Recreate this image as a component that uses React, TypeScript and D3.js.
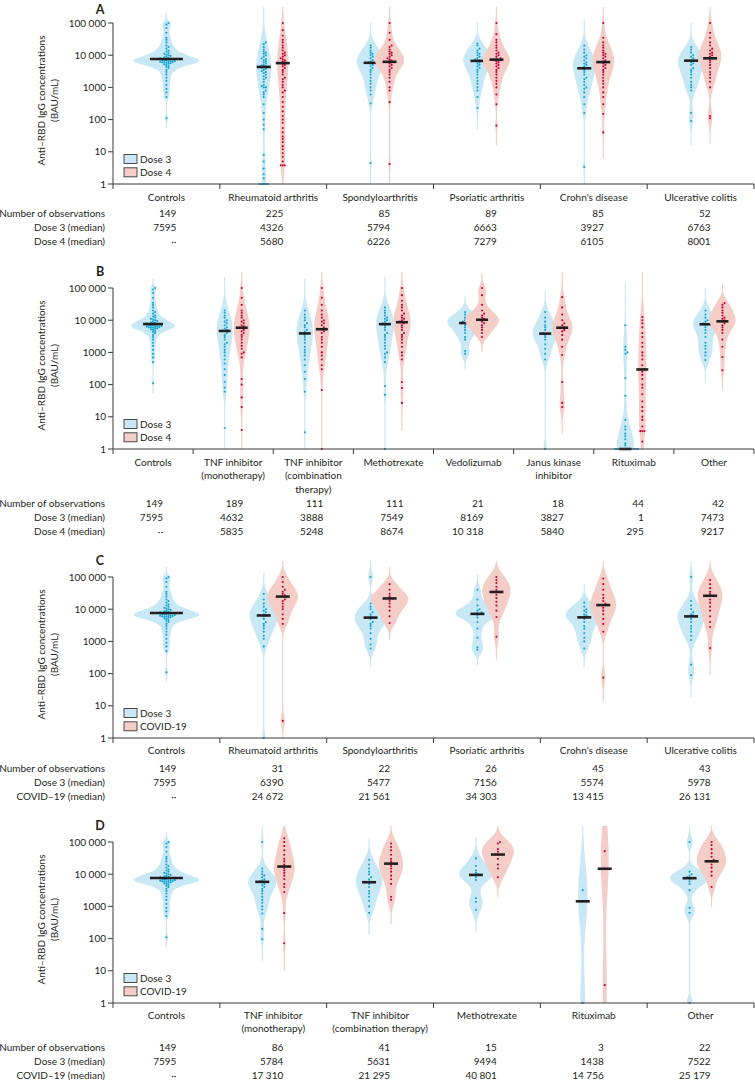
import React from "react";
import * as d3 from "d3";

// ---------------- DATA ----------------
const yTicks = [1, 10, 100, 1000, 10000, 100000];

const rowLabelsDose4 = ["Number of observations", "Dose 3 (median)", "Dose 4 (median)"];
const rowLabelsCovid = ["Number of observations", "Dose 3 (median)", "COVID\u201319 (median)"];
const legendDose4 = ["Dose 3", "Dose 4"];
const legendCovid = ["Dose 3", "COVID-19"];

// Controls (same in all panels)
const controls = [110, 500, 700, 900, 1200, 1600, 2000, 2500, 3000, 3500, 4000, 4300, 4600, 5000, 5200, 5400, 5600, 5800, 6000, 6000, 6100, 6200, 6300, 6500, 6600, 6800, 7000, 7000, 7200, 7400, 7595, 7800, 8000, 8300, 8600, 9000, 9500, 10000, 10500, 11000, 12000, 13000, 14000, 16000, 18000, 20000, 25000, 30000, 35000, 50000, 70000, 90000, 100000];

// Panel A
const catsA = [["Controls"], ["Rheumatoid arthritis"], ["Spondyloarthritis"], ["Psoriatic arthritis"], ["Crohn's disease"], ["Ulcerative colitis"]];
const nObsA = [149, 225, 85, 89, 85, 52];
const dose3MedA = [7595, 4326, 5794, 6663, 3927, 6763];
const dose4MedA = [null, 5680, 6226, 7279, 6105, 8001];
const raD3A = [1, 1, 1, 1, 1, 1.5, 2, 3, 5, 8, 50, 70, 100, 160, 300, 500, 600, 700, 800, 1000, 1000, 1100, 1200, 1500, 1800, 2000, 2200, 2500, 2800, 3000, 3200, 3500, 3800, 4000, 4200, 4326, 4500, 4800, 5000, 5500, 6000, 6500, 7000, 7500, 8000, 9000, 10000, 11000, 12000, 13000, 15000, 18000, 22000, 25000];
const raD4A = [3.8, 3.8, 3.8, 5, 7, 9, 12, 15, 20, 25, 30, 40, 55, 80, 100, 130, 180, 250, 350, 500, 700, 800, 1000, 1200, 1500, 1800, 2000, 2500, 3000, 3500, 4000, 4500, 5000, 5300, 5680, 6000, 6500, 7000, 7500, 8000, 9000, 10000, 11000, 12000, 14000, 17000, 20000, 25000, 30000, 40000, 60000, 100000];
const spD3A = [4.5, 320, 600, 800, 1000, 1300, 1600, 2000, 2500, 3000, 3500, 4000, 4500, 5000, 5500, 5800, 6000, 6500, 7000, 8000, 9000, 10000, 11000, 12000, 14000, 17000, 20000];
const spD4A = [4.2, 350, 800, 1000, 1500, 2000, 2500, 3000, 3500, 4000, 4500, 5000, 5500, 6000, 6226, 6500, 7000, 7500, 8000, 9000, 10000, 11000, 12000, 13000, 15000, 18000, 20000, 30000, 50000, 100000];
const psD3A = [230, 500, 800, 1000, 1300, 1600, 2000, 2500, 3000, 3500, 4000, 4500, 5000, 5500, 6000, 6663, 7000, 7500, 8000, 9000, 10000, 11000, 12000, 14000, 16000, 20000, 23000];
const psD4A = [65, 300, 600, 1000, 1300, 1600, 2000, 2500, 3000, 3500, 4000, 4500, 5000, 5500, 6000, 6500, 7000, 7279, 7500, 8000, 9000, 10000, 11000, 12000, 14000, 17000, 20000, 25000, 30000, 45000, 100000];
const cdD3A = [3.4, 160, 300, 500, 700, 900, 1000, 1200, 1500, 1800, 2000, 2500, 3000, 3500, 3927, 4000, 4500, 5000, 5500, 6000, 7000, 8000, 9000, 10000, 12000, 15000, 20000];
const cdD4A = [40, 150, 300, 500, 700, 1000, 1300, 1600, 2000, 2500, 3000, 3500, 4000, 4500, 5000, 5500, 6105, 6500, 7000, 8000, 9000, 10000, 11000, 12000, 14000, 17000, 20000, 25000, 35000, 100000];
const ucD3A = [90, 160, 800, 1000, 1200, 1500, 2000, 2500, 3000, 3500, 4000, 5000, 5500, 6000, 6763, 7000, 8000, 9000, 10000, 12000, 15000, 18000];
const ucD4A = [110, 130, 1000, 1500, 2000, 2500, 3000, 4000, 5000, 6000, 7000, 8001, 9000, 10000, 11000, 12000, 14000, 16000, 20000, 25000, 35000, 50000, 100000];
const dose3ValsA = [controls, raD3A, spD3A, psD3A, cdD3A, ucD3A];
const dose4ValsA = [null, raD4A, spD4A, psD4A, cdD4A, ucD4A];

// Panel B
const catsB = [["Controls"], ["TNF inhibitor", "(monotherapy)"], ["TNF inhibitor", "(combination", "therapy)"], ["Methotrexate"], ["Vedolizumab"], ["Janus kinase", "inhibitor"], ["Rituximab"], ["Other"]];
const nObsB = [149, 189, 111, 111, 21, 18, 44, 42];
const dose3MedB = [7595, 4632, 3888, 7549, 8169, 3827, 1, 7473];
const dose4MedB = [null, 5835, 5248, 8674, 10318, 5840, 295, 9217];
const tnfmD3B = [4.5, 60, 80, 120, 200, 300, 450, 600, 800, 1000, 1200, 1500, 1800, 2000, 2500, 3000, 3500, 4000, 4632, 5000, 5500, 6000, 7000, 8000, 9000, 10000, 12000, 14000, 17000, 20000];
const tnfmD4B = [3.9, 20, 40, 100, 150, 700, 900, 1000, 1300, 1600, 2000, 2500, 3000, 3500, 4000, 4500, 5000, 5835, 6500, 7000, 8000, 9000, 10000, 12000, 14000, 17000, 20000, 30000, 50000, 100000];
const tnfcD3B = [3.3, 60, 150, 250, 400, 600, 800, 1000, 1200, 1500, 2000, 2500, 3000, 3500, 3888, 4500, 5000, 6000, 7000, 8000, 10000, 12000, 15000, 20000];
const tnfcD4B = [1, 68, 300, 400, 600, 800, 1000, 1500, 2000, 2500, 3000, 4000, 4500, 5248, 6000, 7000, 8000, 9000, 10000, 12000, 15000, 20000, 30000, 50000, 100000];
const mtxD3B = [1, 48, 90, 500, 700, 900, 1000, 1300, 1600, 2000, 2500, 3000, 3500, 4000, 5000, 6000, 7000, 7549, 8000, 9000, 10000, 11000, 12000, 14000, 17000, 20000, 25000];
const mtxD4B = [27, 78, 120, 600, 800, 1000, 1500, 2000, 2500, 3000, 3500, 4000, 5000, 6000, 7000, 8000, 8674, 9000, 10000, 11000, 12000, 14000, 16000, 20000, 25000, 30000, 40000, 60000, 100000];
const vedD3B = [900, 1100, 2500, 3000, 4000, 5000, 6000, 7000, 8169, 8500, 9000, 10000, 11000, 12000, 15000, 18000];
const vedD4B = [3000, 4000, 5000, 6000, 7000, 8000, 9000, 10318, 11000, 12000, 14000, 16000, 20000, 30000, 60000, 100000];
const jakD3B = [1, 600, 900, 1300, 1800, 2500, 3000, 3500, 3827, 4000, 5000, 6000, 7000, 9000, 12000, 18000];
const jakD4B = [20, 27, 120, 830, 1500, 2500, 3500, 4500, 5000, 5840, 6000, 7000, 8000, 10000, 15000, 25000, 52000];
const rtxD3B = [1, 1, 1, 1, 1, 1, 1, 1, 1, 1, 1, 1, 1.3, 1.5, 2, 2.5, 3, 4, 5, 8, 45, 160, 900, 1000, 1200, 1500, 7000];
const rtxD4B = [1.7, 3.6, 3.6, 3.6, 5, 8, 10, 15, 20, 30, 50, 80, 100, 150, 200, 250, 295, 300, 400, 600, 800, 1000, 1500, 2000, 3000, 4000, 6000, 8000, 10000, 12600];
const othD3B = [580, 800, 1000, 1300, 1600, 2000, 3000, 4000, 5000, 6000, 7000, 7473, 8000, 9000, 10000, 12000, 15000, 20000];
const othD4B = [280, 720, 1500, 2500, 4000, 5000, 6000, 7000, 8000, 9217, 10000, 11000, 12000, 14000, 17000, 20000, 25000, 30000, 34000];
const dose3ValsB = [controls, tnfmD3B, tnfcD3B, mtxD3B, vedD3B, jakD3B, rtxD3B, othD3B];
const dose4ValsB = [null, tnfmD4B, tnfcD4B, mtxD4B, vedD4B, jakD4B, rtxD4B, othD4B];

// Panel C
const catsC = catsA;
const nObsC = [149, 31, 22, 26, 45, 43];
const dose3MedC = [7595, 6390, 5477, 7156, 5574, 5978];
const covidMedC = [null, 24672, 21561, 34303, 13415, 26131];
const raD3C = [1, 700, 1200, 1500, 2000, 2500, 3000, 3500, 4000, 5000, 6000, 6390, 7000, 8000, 9000, 10000, 12000, 15000, 20000, 30000];
const raCvC = [3.4, 3500, 5000, 7000, 10000, 12000, 15000, 18000, 20000, 24672, 27000, 30000, 35000, 40000, 50000, 70000, 100000];
const spD3C = [600, 800, 1200, 1800, 2500, 3000, 3500, 4000, 5000, 5477, 6000, 7000, 8000, 10000, 12000, 15000, 100000];
const spCvC = [3700, 6000, 9000, 12000, 15000, 18000, 21561, 25000, 30000, 40000, 60000];
const psD3C = [550, 650, 1300, 2500, 4000, 5500, 6500, 7000, 7156, 7500, 8000, 9000, 10000, 13000, 20000, 40000];
const psCvC = [1400, 5700, 9000, 13000, 17000, 22000, 28000, 34303, 40000, 50000, 65000, 80000, 100000];
const cdD3C = [600, 1000, 1300, 1800, 2500, 3000, 4000, 5000, 5574, 6000, 6500, 7000, 8000, 9000, 10000, 12000, 16000];
const cdCvC = [75, 2000, 3500, 5000, 7000, 9000, 11000, 13415, 15000, 18000, 22000, 28000, 40000, 60000, 90000];
const ucD3C = [90, 190, 1100, 1500, 2000, 2500, 3000, 4000, 5000, 5978, 6500, 7000, 8000, 10000, 13000, 18000, 100000];
const ucCvC = [620, 2800, 4000, 6000, 9000, 12000, 16000, 20000, 26131, 30000, 35000, 45000, 60000, 80000];
const dose3ValsC = [controls, raD3C, spD3C, psD3C, cdD3C, ucD3C];
const covidValsC = [null, raCvC, spCvC, psCvC, cdCvC, ucCvC];

// Panel D
const catsD = [["Controls"], ["TNF inhibitor", "(monotherapy)"], ["TNF inhibitor", "(combination therapy)"], ["Methotrexate"], ["Rituximab"], ["Other"]];
const nObsD = [149, 86, 41, 15, 3, 22];
const dose3MedD = [7595, 5784, 5631, 9494, 1438, 7522];
const covidMedD = [null, 17310, 21295, 40801, 14756, 25179];
const tnfmD3D = [95, 200, 600, 800, 1000, 1300, 1600, 2000, 2500, 3000, 3500, 4000, 4500, 5000, 5500, 5784, 6000, 6500, 7000, 8000, 9000, 10000, 12000, 15000, 100000];
const tnfmCvD = [72, 620, 2800, 4000, 5000, 7000, 9000, 11000, 13000, 15000, 17310, 20000, 25000, 30000, 40000, 55000, 75000, 100000, 130000];
const tnfcD3D = [630, 1000, 1500, 2000, 2500, 3000, 4000, 5000, 5631, 6000, 7000, 8000, 10000, 12000, 15000, 20000, 28000];
const tnfcCvD = [1600, 2000, 5000, 7000, 9000, 12000, 15000, 18000, 21295, 25000, 30000, 40000, 55000, 70000, 90000];
const mtxD3D = [780, 1400, 1800, 6600, 8000, 9494, 10000, 11000, 13000, 18000, 31000];
const mtxCvD = [8000, 15000, 20000, 30000, 40801, 50000, 60000, 90000, 100000];
const rtxD3D = [1, 1438, 3200];
const rtxCvD = [3.6, 14756, 52000];
const othD3D = [1, 630, 900, 3200, 5000, 6000, 7000, 7522, 8000, 9000, 10000, 12000, 100000];
const othCvD = [4000, 9000, 12000, 16000, 20000, 25179, 28000, 35000, 45000, 60000, 80000, 100000];
const dose3ValsD = [controls, tnfmD3D, tnfcD3D, mtxD3D, rtxD3D, othD3D];
const covidValsD = [null, tnfmCvD, tnfcCvD, mtxCvD, rtxCvD, othCvD];

// ---------------- STYLE ----------------
const FONT = "Lato, 'Open Sans', sans-serif";
const INK = "#231f20";
const AXIS = "#3a3a3a";
const BLUE_FILL = "#c9e8f5";
const BLUE_DOT = "#13a3d6";
const RED_FILL = "#f4cdc6";
const RED_DOT = "#c8003a";

const X0 = 113;
const X1 = 754;

type PanelDef = {
  letter: string;
  top: number;
  bottom: number;
  catY: number;
  rowY: number;
  cats: string[][];
  v3: (number[] | null)[];
  v4: (number[] | null)[];
  m3: number[];
  m4: (number | null)[];
  n: number[];
  rowLabels: string[];
  legend: string[];
  ctrlHalf: number;
  areaK: number;
  off: number;
  ctrlBar: number;
  pairBar: number;
};

const panels: PanelDef[] = [
  { letter: "A", top: 23, bottom: 184, catY: 197, rowY: 213, cats: catsA, v3: dose3ValsA, v4: dose4ValsA, m3: dose3MedA, m4: dose4MedA, n: nObsA, rowLabels: rowLabelsDose4, legend: legendDose4, ctrlHalf: 33, areaK: 17, off: 9.5, ctrlBar: 33, pairBar: 14 },
  { letter: "B", top: 288, bottom: 449, catY: 462, rowY: 503, cats: catsB, v3: dose3ValsB, v4: dose4ValsB, m3: dose3MedB, m4: dose4MedB, n: nObsB, rowLabels: rowLabelsDose4, legend: legendDose4, ctrlHalf: 22, areaK: 15, off: 8.5, ctrlBar: 20, pairBar: 12 },
  { letter: "C", top: 577, bottom: 738, catY: 750, rowY: 768, cats: catsC, v3: dose3ValsC, v4: covidValsC, m3: dose3MedC, m4: covidMedC, n: nObsC, rowLabels: rowLabelsCovid, legend: legendCovid, ctrlHalf: 33, areaK: 18, off: 9.5, ctrlBar: 33, pairBar: 14 },
  { letter: "D", top: 842, bottom: 1003, catY: 1015, rowY: 1047, cats: catsD, v3: dose3ValsD, v4: covidValsD, m3: dose3MedD, m4: covidMedD, n: nObsD, rowLabels: rowLabelsCovid, legend: legendCovid, ctrlHalf: 33, areaK: 17, off: 11, ctrlBar: 33, pairBar: 14 },
];

// ---------------- HELPERS ----------------
const LOGMAX = 5.5;

function kdeLog(vals: number[]) {
  const xs = vals.map((v) => Math.log10(Math.max(v, 1)));
  const n = xs.length;
  const sorted = xs.slice().sort(d3.ascending);
  const sd = d3.deviation(xs) || 0.3;
  const iqr = (d3.quantile(sorted, 0.75) as number) - (d3.quantile(sorted, 0.25) as number);
  let s = Math.min(sd, iqr / 1.34);
  if (!(s > 0)) s = sd;
  const bw = Math.max(0.08, 0.9 * s * Math.pow(n, -0.2));
  const lo = Math.max(0, (d3.min(xs) as number) - 3 * bw);
  const hi = Math.min(LOGMAX, (d3.max(xs) as number) + 3 * bw);
  const steps = 160;
  const pts = d3.range(steps + 1).map((i) => lo + ((hi - lo) * i) / steps);
  const norm = n * bw * Math.sqrt(2 * Math.PI);
  const dens = pts.map((t) => d3.sum(xs, (x) => Math.exp(-0.5 * ((t - x) / bw) ** 2)) / norm);
  return { pts, dens, max: d3.max(dens) as number };
}

function fmt(v: number | null) {
  if (v == null) return "\u00b7\u00b7";
  if (v >= 10000) return d3.format(",")(v).replace(/,/g, "\u202f");
  return String(v);
}

function beeswarm(vals: number[], y: (v: number) => number, cx: number) {
  const sorted = vals.slice().sort(d3.ascending);
  const placed: { x: number; y: number }[] = [];
  const d = 2.1;
  for (const v of sorted) {
    const yy = y(Math.max(v, 1));
    for (let k = 0; k < 40; k++) {
      const step = Math.ceil(k / 2) * (k % 2 === 1 ? 1 : -1);
      const xx = cx + step * d;
      const hit = placed.some((p) => Math.abs(p.y - yy) < 1.9 && Math.abs(p.x - xx) < 1.9);
      if (!hit) {
        placed.push({ x: xx, y: yy });
        break;
      }
    }
  }
  return placed;
}

function Violin(props: {
  vals: number[];
  cx: number;
  y: d3.ScaleLogarithmic<number, number>;
  fill: string;
  dot: string;
  mode: "width" | "area";
  half: number;
  median: number;
  bar: number;
}) {
  const { vals, cx, y, fill, dot, mode, half, median, bar } = props;
  const k = kdeLog(vals);
  const wOf = (dd: number) => {
    const w = mode === "width" ? (half * dd) / k.max : half * dd;
    return Math.max(0.6, w);
  };
  const data = k.pts.map((t, i) => ({ t, w: wOf(k.dens[i]) }));
  const area = d3
    .area<{ t: number; w: number }>()
    .y((d) => y(Math.pow(10, d.t)))
    .x0((d) => cx - d.w)
    .x1((d) => cx + d.w)
    .curve(d3.curveBasis);
  const dots = beeswarm(vals, (v) => y(v), cx);
  return (
    <g>
      <path d={area(data) || ""} fill={fill} stroke="none" />
      {dots.map((p, i) => (
        <circle key={i} cx={p.x} cy={p.y} r={1.05} fill={dot} />
      ))}
      <line x1={cx - bar / 2} x2={cx + bar / 2} y1={y(Math.max(median, 1))} y2={y(Math.max(median, 1))} stroke={INK} strokeWidth={2.6} />
    </g>
  );
}

function Panel({ p }: { p: PanelDef }) {
  const y = d3.scaleLog().domain([1, 100000]).range([p.bottom, p.top]);
  const x = d3
    .scaleBand<number>()
    .domain(d3.range(p.cats.length))
    .range([X0, X1])
    .paddingInner(0)
    .paddingOuter(0);
  const bw = x.bandwidth();
  const boundaries = d3.range(p.cats.length + 1).map((i) => X0 + i * bw);
  const midY = (p.top + p.bottom) / 2 - 3;
  const rowH = 14.2;
  const letterY = Math.max(p.top - 12, 14);
  return (
    <g fontFamily={FONT} fill={INK}>
      {/* panel letter */}
      <text x={100} y={letterY} fontSize={12.5} fontWeight={700} textAnchor="middle">
        {p.letter}
      </text>
      {/* y label */}
      <text transform={`translate(45,${midY}) rotate(-90)`} fontSize={10} textAnchor="middle">
        Anti–RBD IgG concentrations
      </text>
      <text transform={`translate(58,${midY}) rotate(-90)`} fontSize={10} textAnchor="middle">
        (BAU/mL)
      </text>
      {/* y axis */}
      <line x1={X0} x2={X0} y1={p.top} y2={p.bottom} stroke={AXIS} strokeWidth={1} />
      {yTicks.map((t) => (
        <g key={t}>
          <line x1={X0 - 5} x2={X0} y1={y(t)} y2={y(t)} stroke={AXIS} strokeWidth={1} />
          <text x={X0 - 7} y={y(t) + 3.5} fontSize={10} textAnchor="end">
            {fmt(t)}
          </text>
        </g>
      ))}
      {/* violins */}
      {p.cats.map((_, i) => {
        const c = (x(i) as number) + bw / 2;
        const v3 = p.v3[i];
        const v4 = p.v4[i];
        if (!v4) {
          return (
            <Violin key={i} vals={v3 as number[]} cx={c} y={y} fill={BLUE_FILL} dot={BLUE_DOT} mode="width" half={p.ctrlHalf} median={p.m3[i]} bar={p.ctrlBar} />
          );
        }
        return (
          <g key={i}>
            <Violin vals={v3 as number[]} cx={c - p.off} y={y} fill={BLUE_FILL} dot={BLUE_DOT} mode="area" half={p.areaK} median={p.m3[i]} bar={p.pairBar} />
            <Violin vals={v4} cx={c + p.off} y={y} fill={RED_FILL} dot={RED_DOT} mode="area" half={p.areaK} median={p.m4[i] as number} bar={p.pairBar} />
          </g>
        );
      })}
      {/* x axis */}
      <line x1={X0} x2={X1} y1={p.bottom} y2={p.bottom} stroke={AXIS} strokeWidth={1.2} />
      {boundaries.map((bx, i) => (
        <line key={i} x1={bx} x2={bx} y1={p.bottom} y2={p.bottom + 5} stroke={AXIS} strokeWidth={1} />
      ))}
      {/* category labels */}
      {p.cats.map((lines, i) => {
        const c = (x(i) as number) + bw / 2;
        return (
          <text key={i} x={c} y={p.catY + 3.5} fontSize={10} textAnchor="middle">
            {lines.map((l, j) => (
              <tspan key={j} x={c} dy={j === 0 ? 0 : 13.5}>
                {l}
              </tspan>
            ))}
          </text>
        );
      })}
      {/* legend */}
      {p.legend.map((lab, i) => {
        const cy = p.bottom - 25 + i * 13.3;
        return (
          <g key={lab}>
            <rect x={124} y={cy - 4.5} width={13} height={9} fill={i === 0 ? BLUE_FILL : RED_FILL} stroke={AXIS} strokeWidth={0.9} />
            <text x={140} y={cy + 3.5} fontSize={10}>
              {lab}
            </text>
          </g>
        );
      })}
      {/* table */}
      {p.rowLabels.map((lab, r) => (
        <text key={lab} x={105} y={p.rowY + r * rowH + 3.5} fontSize={10} textAnchor="end">
          {lab}
        </text>
      ))}
      {p.cats.map((_, i) => {
        const c = (x(i) as number) + bw / 2 + 10;
        const vals = [p.n[i], p.m3[i], p.m4[i]];
        return (
          <g key={i}>
            {vals.map((v, r) => (
              <text key={r} x={c} y={p.rowY + r * rowH + 3.5} fontSize={10} textAnchor="end">
                {fmt(v as number | null)}
              </text>
            ))}
          </g>
        );
      })}
    </g>
  );
}

export default function App() {
  return (
    <svg width={755} height={1080} style={{ display: "block", position: "absolute", left: 0, top: 0 }}>
      <rect width={755} height={1080} fill="#fff" />
      {panels.map((p) => (
        <Panel key={p.letter} p={p} />
      ))}
    </svg>
  );
}
